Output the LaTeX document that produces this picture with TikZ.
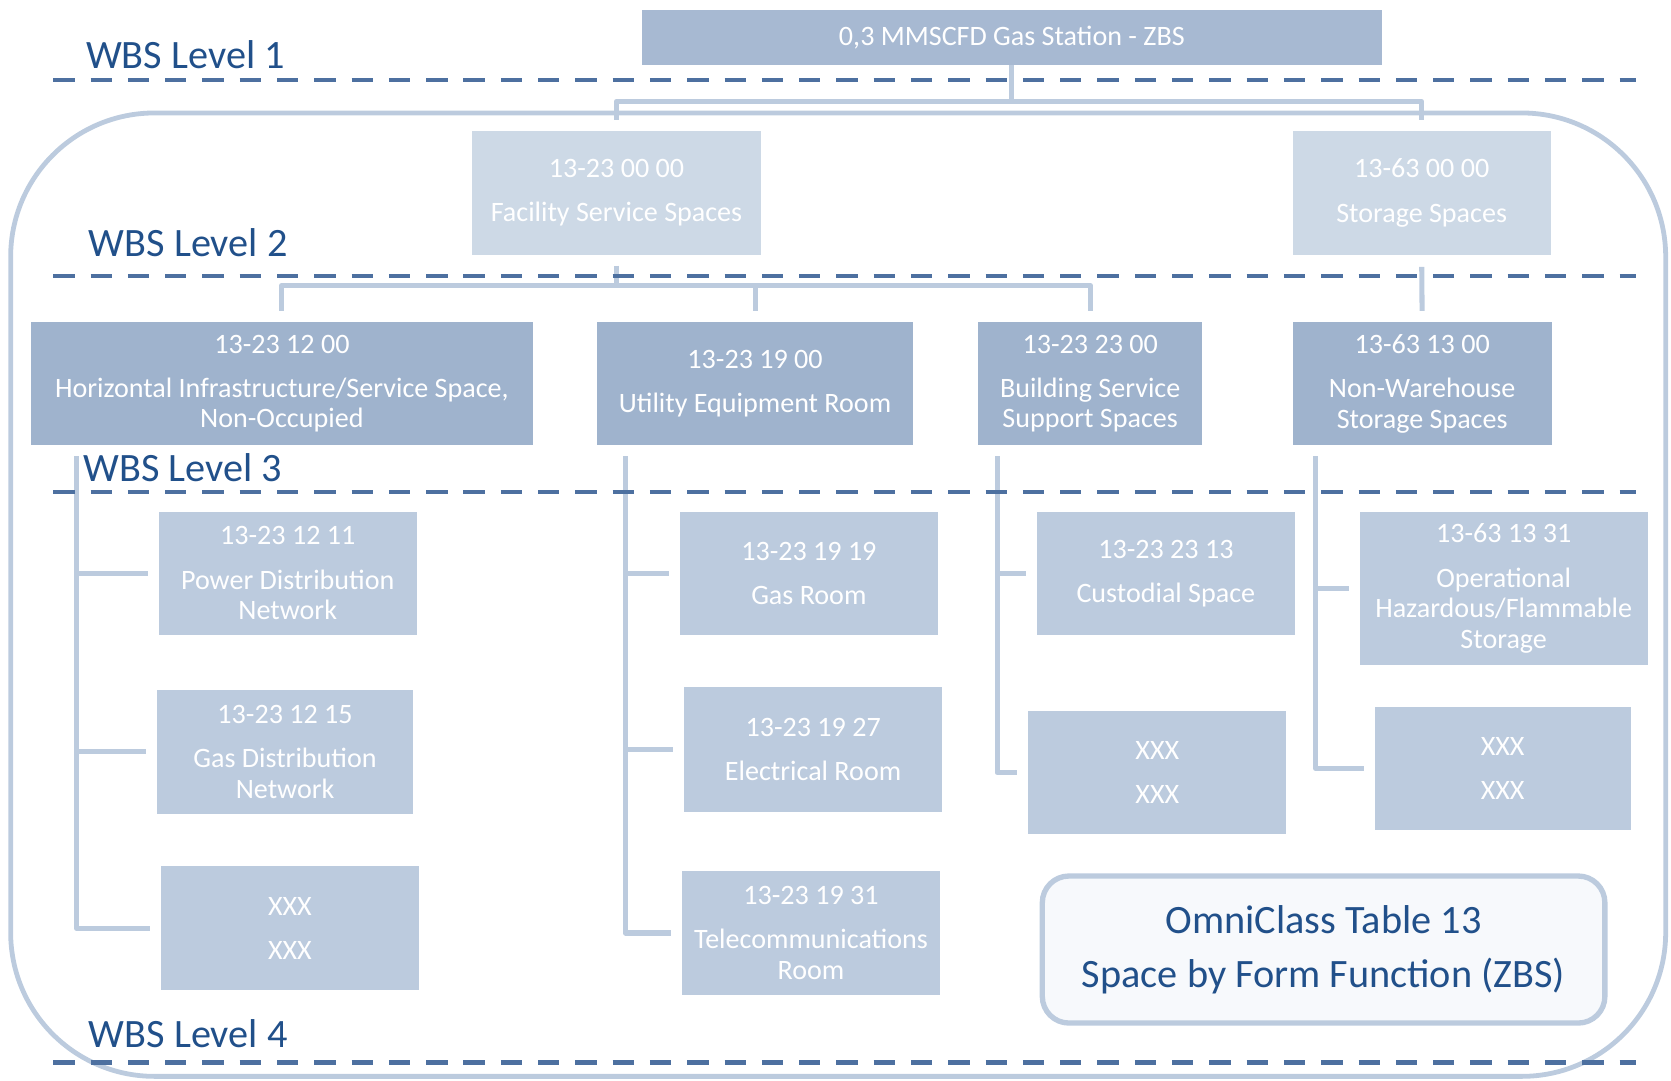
\documentclass[tikz,border=0pt]{standalone}
\usepackage{fontspec}
\setmainfont{Carlito}
\begin{document}
\definecolor{topfill}{HTML}{A7B9D2}
\definecolor{lvtwo}{HTML}{CDD9E6}
\definecolor{lvthree}{HTML}{9FB3CD}
\definecolor{lvfour}{HTML}{BCCBDE}
\definecolor{linkc}{HTML}{BCCBDE}
\definecolor{dashc}{HTML}{4D70A0}
\definecolor{labc}{HTML}{21508A}
\definecolor{omnifill}{HTML}{F7F9FC}
\begin{tikzpicture}[x=0.02cm,y=-0.02cm,
  boxbase/.style={inner sep=0pt, align=center, text=white,
    font=\fontsize{15}{16.3}\selectfont, minimum height=2.32cm},
  topbox/.style={boxbase, fill=topfill, minimum width=13.9cm, minimum height=1.04cm},
  twobox/.style={boxbase, fill=lvtwo},
  threebox/.style={boxbase, fill=lvthree},
  fourbox/.style={boxbase, fill=lvfour, minimum width=4.84cm},
  conn/.style={draw=linkc, line width=0.095cm, line join=round},
  lvline/.style={draw=dashc, line width=0.08cm, dash pattern=on 0.4cm off 0.3cm},
  lvlabel/.style={anchor=base west, inner sep=0pt, text=labc,
    font=\fontsize{21.5}{26}\selectfont},
]
\useasboundingbox (0,0) rectangle (1568,1014);

% outer frame around the breakdown
\draw[draw=linkc, line width=0.09cm, rounded corners=2.7cm] (10,106) rectangle (1563,1010);

% level 1
\node[topbox] (top) at (949.5,35) {0,3 MMSCFD Gas Station - ZBS};

% level 2
\node[twobox, minimum width=5.42cm] (l2a) at (578.5,181) {13-23 00 00\\[7.4pt]Facility Service Spaces};
\node[twobox, minimum width=4.84cm] (l2b) at (1334,181) {13-63 00 00\\[7.4pt]Storage Spaces};

% level 3
\node[threebox, minimum width=9.42cm] (l3a) at (264.5,360) {13-23 12 00\\[7.4pt]Horizontal Infrastructure/Service Space,\\Non-Occupied};
\node[threebox, minimum width=5.94cm] (l3b) at (708.5,360) {13-23 19 00\\[7.4pt]Utility Equipment Room};
\node[threebox, minimum width=4.2cm] (l3c) at (1023,360) {13-23 23 00\\[7.4pt]Building Service\\Support Spaces};
\node[threebox, minimum width=4.86cm] (l3d) at (1334.5,360) {13-63 13 00\\[7.4pt]Non-Warehouse\\Storage Spaces};

% level 4
\node[fourbox] (a1) at (270,538) {13-23 12 11\\[7.4pt]Power Distribution\\Network};
\node[fourbox, minimum width=4.82cm, minimum height=2.34cm] (a2) at (267.5,705.5) {13-23 12 15\\[7.4pt]Gas Distribution\\Network};
\node[fourbox] (a3) at (272,871) {XXX\\[7.4pt]XXX};
\node[fourbox] (b1) at (759,538) {13-23 19 19\\[7.4pt]Gas Room};
\node[fourbox, minimum height=2.34cm] (b2) at (763,703.5) {13-23 19 27\\[7.4pt]Electrical Room};
\node[fourbox, minimum height=2.34cm] (b3) at (761,875.5) {13-23 19 31\\[7.4pt]Telecommunications\\Room};
\node[fourbox] (c1) at (1094,538) {13-23 23 13\\[7.4pt]Custodial Space};
\node[fourbox] (c2) at (1086,725) {XXX\\[7.4pt]XXX};
\node[fourbox, minimum width=5.4cm, minimum height=2.88cm] (d1) at (1411,552) {13-63 13 31\\[7.4pt]Operational\\Hazardous/Flammable\\Storage};
\node[fourbox, minimum width=4.8cm] (d2) at (1410,721) {XXX\\[7.4pt]XXX};

% table caption
\node[draw=linkc, line width=0.1cm, fill=omnifill, rounded corners=0.5cm,
  minimum width=10.56cm, minimum height=2.76cm, align=center, text=labc,
  font=\fontsize{21.5}{29}\selectfont] (omni) at (1242,891)
  {OmniClass Table 13\\Space by Form Function (ZBS)};

% connectors level 1 -> level 2
\coordinate (busone) at (0,95);
\draw[conn] (top.south) -- (top.south |- busone);
\draw[conn, shorten >=0.2cm] (top.south |- busone) -| (l2a.north);
\draw[conn, shorten >=0.2cm] (top.south |- busone) -| (l2b.north);

% connectors level 2 -> level 3
\coordinate (bustwo) at (0,268);
\draw[conn, shorten <=0.2cm] (l2a.south) -- (l2a.south |- bustwo);
\draw[conn, shorten >=0.2cm] (l2a.south |- bustwo) -| (l3a.north);
\draw[conn, shorten >=0.2cm] (l2a.south |- bustwo) -| (l3c.north);
\draw[conn, shorten >=0.2cm] (l3b.north |- bustwo) -- (l3b.north);
\draw[conn, shorten <=0.22cm, shorten >=0.2cm] (l2b.south) -- (l3d.north);

% connectors level 3 -> level 4
\coordinate (va) at ([shift={(0.86cm,-0.2cm)}]l3a.south west);
\coordinate (vb) at ([shift={(0.54cm,-0.2cm)}]l3b.south west);
\coordinate (vc) at ([shift={(0.36cm,-0.2cm)}]l3c.south west);
\coordinate (vd) at ([shift={(0.44cm,-0.2cm)}]l3d.south west);
\draw[conn, shorten >=0.2cm] (va) |- (a3.west);
\draw[conn, shorten >=0.2cm] (va |- a1.west) -- (a1.west);
\draw[conn, shorten >=0.2cm] (va |- a2.west) -- (a2.west);
\draw[conn, shorten >=0.2cm] (vb) |- (b3.west);
\draw[conn, shorten >=0.2cm] (vb |- b1.west) -- (b1.west);
\draw[conn, shorten >=0.2cm] (vb |- b2.west) -- (b2.west);
\draw[conn, shorten >=0.2cm] (vc) |- (c2.west);
\draw[conn, shorten >=0.2cm] (vc |- c1.west) -- (c1.west);
\draw[conn, shorten >=0.2cm] (vd) |- (d2.west);
\draw[conn, shorten >=0.2cm] (vd |- d1.west) -- (d1.west);

% level separators
\coordinate (sepL1) at (50,75);  \coordinate (sepR1) at (1535,75);
\coordinate (sepL2) at (50,259); \coordinate (sepR2) at (1535,259);
\coordinate (sepL3) at (50,462); \coordinate (sepR3) at (1535,462);
\coordinate (sepL4) at (50,997); \coordinate (sepR4) at (1535,997);
\draw[lvline] (sepL1) -- (sepR1);
\draw[lvline] (sepL2) -- (sepR2);
\draw[lvline] (sepL3) -- (sepR3);
\draw[lvline] (sepL4) -- (sepR4);

% level labels
\node[lvlabel] (lab1) at (80.5,64) {WBS Level 1};
\node[lvlabel] (lab2) at (83,241) {WBS Level 2};
\node[lvlabel] (lab3) at (78,452) {WBS Level 3};
\node[lvlabel] (lab4) at (83,983) {WBS Level 4};
\end{tikzpicture}
\end{document}
